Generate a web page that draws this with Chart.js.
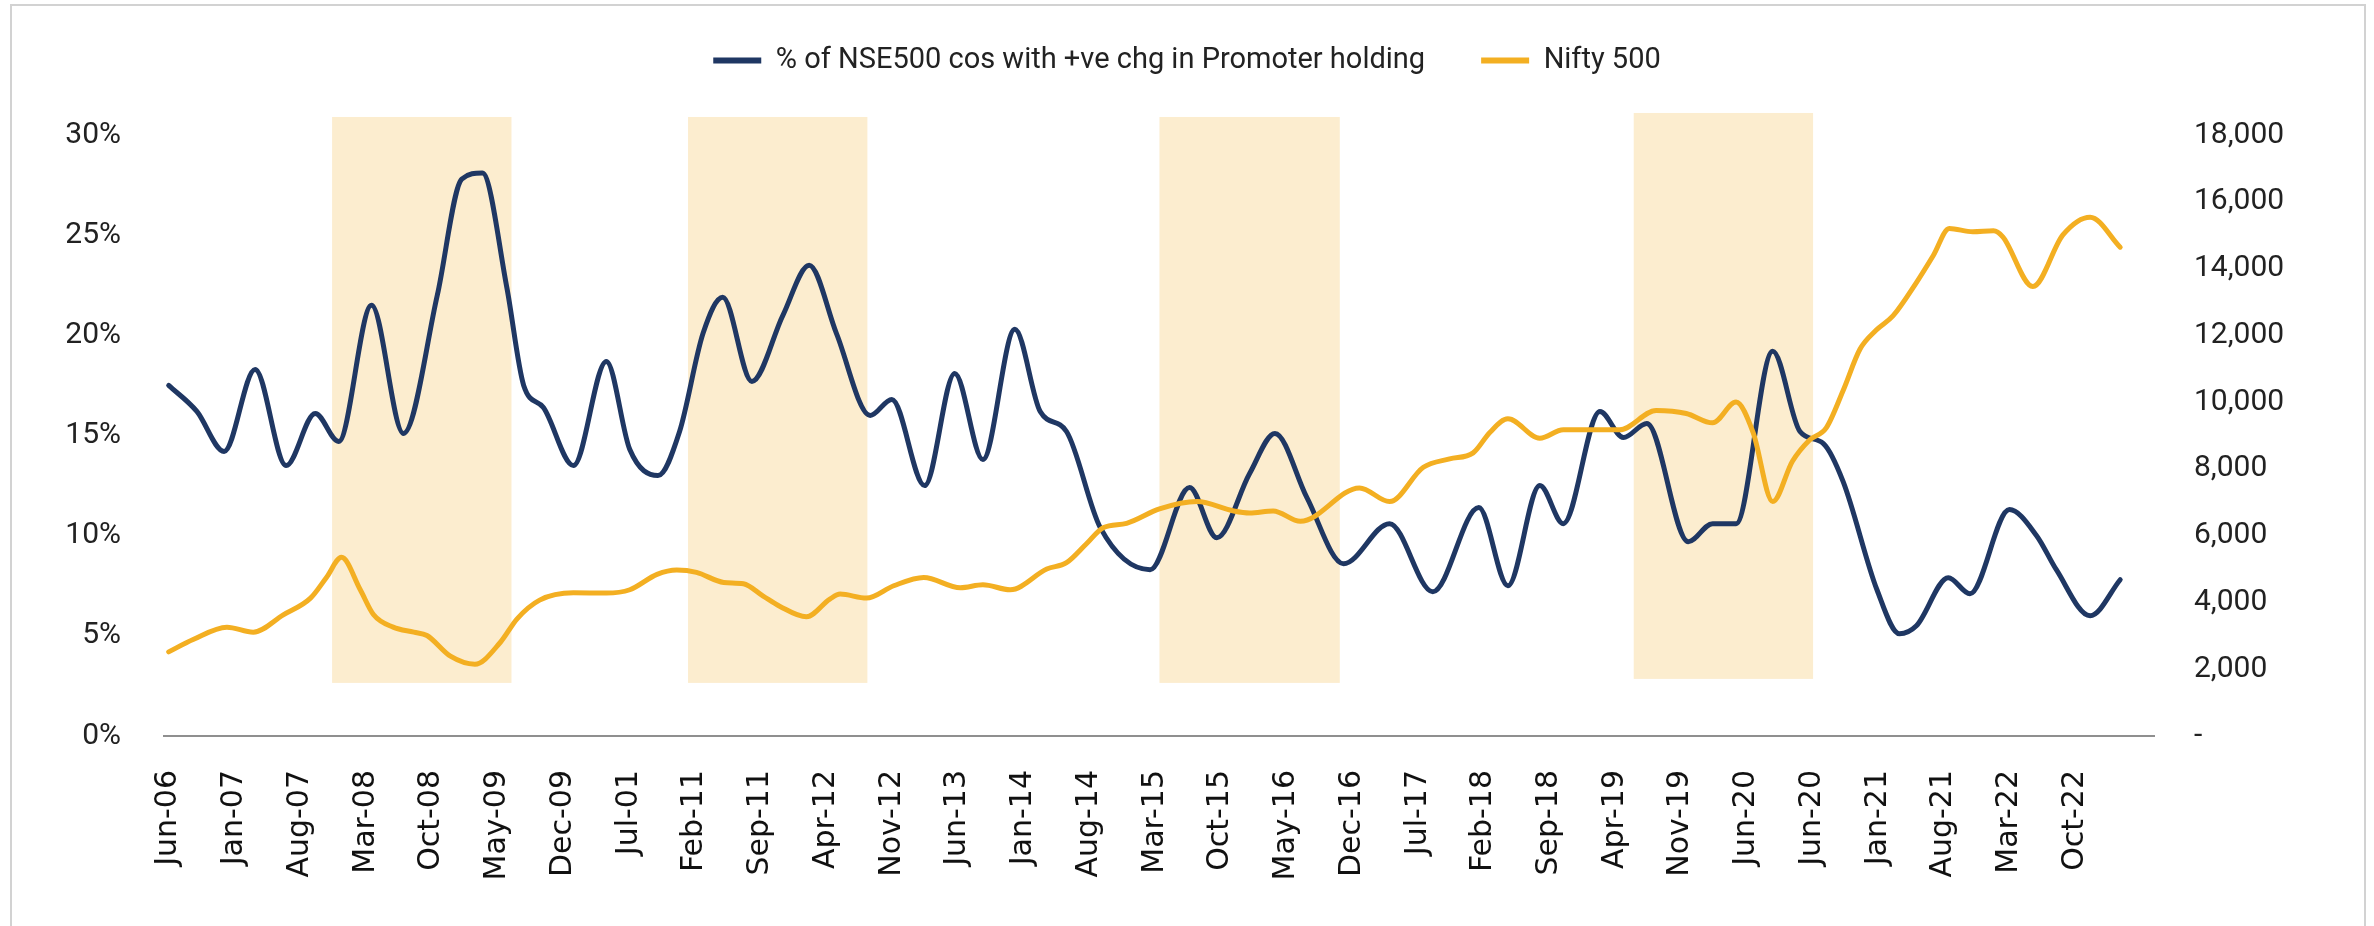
<!DOCTYPE html>
<html>
<head>
<meta charset="utf-8">
<script src="https://cdn.jsdelivr.net/npm/chart.js@4.4.1/dist/chart.umd.min.js"></script>
<style>
html, body { margin: 0; padding: 0; background: #ffffff; }
#wrap { position: relative; width: 2374px; height: 926px; overflow: hidden; background: #ffffff; }
#frame { position: absolute; left: 10px; top: 4px; width: 2356px; height: 1000px; border: 2px solid #d2d2d2; box-sizing: border-box; }
canvas { position: absolute; left: 0; top: 0; }
</style>
</head>
<body>
<div id="wrap"><div id="frame"></div><canvas id="c" width="2374" height="926"></canvas></div>
<script>
// ---- data ----
const seriesNames = ['% of NSE500 cos with +ve chg in Promoter holding', 'Nifty 500'];

// x tick labels, one every 7 rows of the monthly category axis (as printed in the source)
const tickLabels = ['Jun-06','Jan-07','Aug-07','Mar-08','Oct-08','May-09','Dec-09','Jul-01','Feb-11','Sep-11',
  'Apr-12','Nov-12','Jun-13','Jan-14','Aug-14','Mar-15','Oct-15','May-16','Dec-16','Jul-17',
  'Feb-18','Sep-18','Apr-19','Nov-19','Jun-20','Jun-20','Jan-21','Aug-21','Mar-22','Oct-22'];
const tickStep = 7;

// promoter series: month offset from Jun-06, % of companies
const promoterMonths = [0, 3.0, 5.9, 9.2, 12.5, 15.6, 18.1, 21.6, 25.0, 28.6, 31.2, 33.4, 36.0, 37.8, 39.9,
  43.1, 46.6, 49.1, 52.1, 54.4, 56.9, 59.0, 62.1, 65.4, 68.2, 71.1, 74.7, 77.0, 80.5, 83.7, 86.7,
  90.1, 92.8, 95.6, 99.2, 104.5, 108.7, 111.6, 115.1, 117.8, 121.2, 125.1, 130.0, 134.6, 139.5,
  142.6, 146.0, 148.5, 152.4, 154.9, 157.4, 161.8, 164.4, 166.9, 170.8, 173.7, 176.2, 178.3,
  181.9, 184.3, 186.1, 189.5, 191.8, 196.0, 198.9, 201.0, 204.6, 207.8];
const promoterPct = [17.5, 16.2, 14.2, 18.3, 13.5, 16.1, 14.7, 21.5, 15.1, 22.0, 27.8, 28.1, 22.4, 17.5, 16.4,
  13.5, 18.7, 14.3, 13.0, 15.2, 20.1, 21.9, 17.7, 21.0, 23.5, 20.1, 16.0, 16.8, 12.5, 18.1, 13.8,
  20.3, 16.2, 15.2, 10.4, 8.3, 12.4, 9.9, 13.1, 15.1, 11.9, 8.6, 10.6, 7.2, 11.4,
  7.5, 12.5, 10.6, 16.2, 14.9, 15.6, 9.7, 10.6, 10.6, 19.2, 15.2, 14.6, 12.7,
  7.3, 5.1, 5.5, 7.9, 7.1, 11.3, 10.0, 8.3, 6.0, 7.8];

// Nifty 500 series: month offset from Jun-06, index level
const niftyMonths = [0, 2.6, 6.2, 9.0, 12.2, 15.1, 16.8, 18.4, 20.4, 21.8, 23.9, 26.1, 27.5, 30.0, 32.6,
  35.3, 37.1, 39.5, 43.1, 46.6, 49.1, 52.0, 54.1, 56.2, 59.1, 61.2, 63.3, 65.1, 67.9, 70.4, 71.5,
  74.3, 77.2, 80.4, 84.3, 86.7, 89.6, 93.5, 95.6, 97.7, 99.5, 102.0, 105.5, 109.5, 113.4, 115.1,
  117.6, 120.5, 126.8, 130.0, 133.6, 136.4, 138.9, 140.7, 142.6, 146.0, 148.5, 154.5, 158.4,
  161.6, 164.4, 166.9, 168.7, 170.8, 172.9, 174.7, 176.5, 178.3, 180.1, 181.8, 183.6, 186.1,
  187.9, 189.6, 192.1, 194.3, 195.3, 198.5, 201.7, 204.6, 207.8];
const niftyLevel = [2520, 2890, 3260, 3110, 3630, 4130, 4750, 5350, 4380, 3640, 3260, 3110, 3010, 2390, 2150,
  2800, 3510, 4070, 4290, 4280, 4380, 4840, 4970, 4900, 4600, 4560, 4190, 3880, 3570, 4100, 4250,
  4130, 4500, 4750, 4440, 4530, 4380, 5000, 5190, 5750, 6240, 6370, 6800, 7020, 6740, 6680,
  6740, 6430, 7430, 7020, 8050, 8300, 8480, 9100, 9500, 8920, 9170, 9170, 9750,
  9660, 9380, 10000, 9100, 7020, 8230, 8860, 9230, 10350, 11590, 12150, 12580, 13580,
  14390, 15200, 15100, 15130, 14950, 13460, 15010, 15540, 14640];

// highlighted periods (month offsets) and their vertical extent (% axis)
const bandStart  = [17.4, 55.3, 105.5, 156.0];
const bandEnd    = [36.5, 74.4, 124.7, 175.1];
const bandTop    = [30.9, 30.9, 30.9, 31.1];
const bandBottom = [2.65, 2.65, 2.65, 2.85];

// ---- chart ----
const NAVY = '#1F3763';
const GOLD = '#F3AF22';
const BAND = '#FCEDCF';

const legendHeight = {
  id: 'legendHeight',
  beforeLayout(chart) {
    const lg = chart.legend;
    if (lg && !lg._patchedFit) {
      const orig = lg.fit;
      lg.fit = function () { orig.call(this); this.height = 135; };
      lg._patchedFit = true;
    }
  },
  afterLayout(chart) {
    const lg = chart.legend;
    if (lg) { lg.top -= 10; lg.bottom -= 10; }
  }
};

const bandsPlugin = {
  id: 'bands',
  beforeDatasetsDraw(chart) {
    const { ctx, scales: { x, y } } = chart;
    ctx.save();
    ctx.fillStyle = BAND;
    bandStart.forEach((s, i) => {
      const x0 = x.getPixelForValue(s), x1 = x.getPixelForValue(bandEnd[i]);
      const y0 = y.getPixelForValue(bandTop[i]), y1 = y.getPixelForValue(bandBottom[i]);
      ctx.fillRect(x0, y0, x1 - x0, y1 - y0);
    });
    ctx.restore();
  }
};

const lineStyle = { borderWidth: 5, pointRadius: 0, pointHoverRadius: 0, cubicInterpolationMode: 'monotone',
  borderCapStyle: 'round', borderJoinStyle: 'round', fill: false };

new Chart(document.getElementById('c').getContext('2d'), {
  type: 'line',
  data: {
    datasets: [
      Object.assign({ label: seriesNames[0], yAxisID: 'y', borderColor: NAVY, backgroundColor: NAVY, order: 1,
        data: promoterMonths.map((m, i) => ({ x: m, y: promoterPct[i] })) }, lineStyle),
      Object.assign({ label: seriesNames[1], yAxisID: 'y2', borderColor: GOLD, backgroundColor: GOLD, order: 0,
        data: niftyMonths.map((m, i) => ({ x: m, y: niftyLevel[i] })) }, lineStyle)
    ]
  },
  options: {
    responsive: false,
    animation: false,
    devicePixelRatio: 1,
    layout: { padding: 0 },
    plugins: {
      tooltip: { enabled: false },
      legend: {
        position: 'top',
        labels: {
          font: { family: 'Roboto', size: 29 },
          color: '#222222',
          boxWidth: 48,
          boxHeight: 6,
          padding: 56,
          generateLabels(chart) {
            return chart.data.datasets.map((ds, i) => ({
              text: ds.label, fillStyle: ds.borderColor, strokeStyle: ds.borderColor,
              lineWidth: 0, hidden: false, datasetIndex: i, fontColor: '#222222'
            }));
          }
        }
      }
    },
    scales: {
      x: {
        type: 'linear',
        min: -0.5,
        max: 211.4,
        afterBuildTicks(s) { s.ticks = tickLabels.map((_, i) => ({ value: i * tickStep })); },
        afterFit(s) { s.height = 190; },
        ticks: {
          autoSkip: false, minRotation: 90, maxRotation: 90, padding: 34,
          font: { family: 'DejaVu Sans', size: 30 }, color: '#111111',
          callback: (v, i) => tickLabels[i]
        },
        grid: { display: false, drawTicks: false },
        border: { display: true, color: '#8f8f8f', width: 2 }
      },
      y: {
        position: 'left', min: 0, max: 30,
        afterFit(s) { s.width = 164; },
        ticks: { stepSize: 5, padding: 43, font: { family: 'Roboto', size: 30 }, color: '#222222',
          callback: v => v + '%' },
        grid: { display: false, drawTicks: false },
        border: { display: false }
      },
      y2: {
        position: 'right', min: 0, max: 18000,
        afterFit(s) { s.width = 220; },
        ticks: { stepSize: 2000, padding: 40, font: { family: 'Roboto', size: 30 }, color: '#222222',
          callback: v => (v === 0 ? '-' : v.toLocaleString('en-US')) },
        grid: { display: false, drawTicks: false },
        border: { display: false }
      }
    }
  },
  plugins: [legendHeight, bandsPlugin]
});
</script>
</body>
</html>
